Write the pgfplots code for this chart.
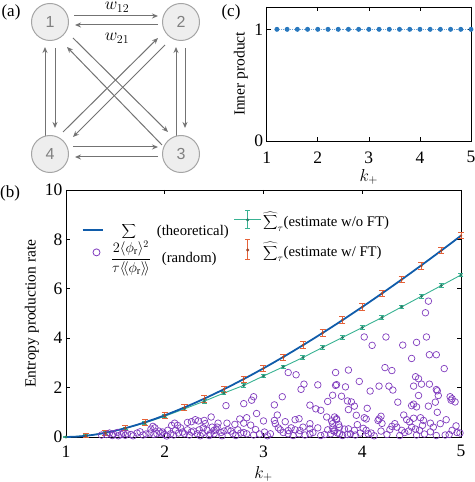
\documentclass[border=0pt]{standalone}
\usepackage{fontspec}
\setmainfont{Liberation Serif}
\newfontfamily\numfont{Liberation Sans}
\usepackage{pgfplots}
\usepackage{pgfplotstable}
\pgfplotsset{compat=1.18}
\usetikzlibrary{arrows.meta}
\definecolor{sigblue}{RGB}{16,92,170}
\definecolor{teal2}{RGB}{56,178,146}
\definecolor{orng}{RGB}{230,98,56}
\definecolor{purp}{RGB}{128,60,190}
\definecolor{cblue}{RGB}{40,120,190}
\definecolor{arrgray}{RGB}{115,115,115}
\definecolor{nodefill}{RGB}{238,238,238}
\definecolor{nodedraw}{RGB}{165,165,165}

\pgfplotstableread{
k s
1.0 0
1.1 0.0121
1.2 0.0462
1.3 0.0996
1.4 0.1704
1.5 0.2567
1.6 0.3570
1.7 0.4702
1.8 0.5953
1.9 0.7313
2.0 0.8775
2.1 1.0332
2.2 1.1978
2.3 1.3708
2.4 1.5517
2.5 1.7400
2.6 1.9355
2.7 2.1377
2.8 2.3463
2.9 2.5611
3.0 2.7817
3.1 3.0079
3.2 3.2396
3.3 3.4765
3.4 3.7183
3.5 3.9650
3.6 4.2163
3.7 4.4721
3.8 4.7323
3.9 4.9967
4.0 5.2651
4.1 5.5376
4.2 5.8138
4.3 6.0938
4.4 6.3774
4.5 6.6646
4.6 6.9552
4.7 7.2491
4.8 7.5462
4.9 7.8467
5.0 8.1502
}\theory

\pgfplotstableread{
k s e
1.0 0.00 0.01
1.2 0.05 0.04
1.4 0.17 0.05
1.6 0.35 0.05
1.8 0.57 0.06
2.0 0.84 0.06
2.2 1.14 0.06
2.4 1.45 0.07
2.6 1.78 0.07
2.8 2.09 0.07
3.0 2.47 0.07
3.2 2.84 0.07
3.4 3.22 0.07
3.6 3.63 0.07
3.8 4.03 0.07
4.0 4.43 0.07
4.2 4.84 0.07
4.4 5.27 0.07
4.6 5.70 0.07
4.8 6.13 0.07
5.0 6.56 0.07
}\teal

\pgfplotstableread{
k s e
1.2 0.05 0.08
1.4 0.17 0.10
1.6 0.36 0.11
1.8 0.59 0.12
2.0 0.87 0.12
2.2 1.19 0.13
2.4 1.54 0.13
2.6 1.93 0.13
2.8 2.34 0.13
3.0 2.78 0.13
3.2 3.23 0.13
3.4 3.72 0.13
3.6 4.22 0.13
3.8 4.74 0.13
4.0 5.26 0.13
4.2 5.81 0.13
4.4 6.37 0.13
4.6 6.93 0.13
4.8 7.55 0.13
5.0 8.15 0.13
}\orange

\pgfplotstableread{
k s
1.2 1
1.4 1
1.6 1
1.8 1
2.0 1
2.2 1
2.4 1
2.6 1
2.8 1
3.0 1
3.2 1
3.4 1
3.6 1
3.8 1
4.0 1
4.2 1
4.4 1
4.6 1
4.8 1
5.0 1
}\inner

\pgfplotstableread{
k s
1.44 0.16
1.41 0.10
1.48 0.13
1.52 0.18
1.56 0.10
1.58 0.16
1.62 0.13
1.66 0.10
1.72 0.16
1.75 0.21
1.86 0.32
1.88 0.43
1.90 0.37
1.94 0.24
1.96 0.16
1.85 0.16
1.89 0.10
1.92 0.13
2.00 0.10
2.07 0.47
2.10 0.56
2.13 0.47
2.16 0.37
2.11 0.27
2.14 0.16
2.18 0.20
2.23 0.59
2.27 0.62
2.31 0.70
2.34 0.65
2.40 0.67
2.41 0.54
2.23 0.29
2.27 0.20
2.29 0.24
2.35 0.29
2.39 0.37
2.43 0.27
2.46 0.13
2.50 0.27
2.53 0.40
2.03 0.27
2.06 0.13
2.20 0.13
2.33 0.13
2.38 0.16
2.45 0.06
1.36 0.08
1.47 0.06
1.53 0.05
1.60 0.07
1.68 0.05
1.78 0.08
1.81 0.12
1.98 0.20
2.02 0.04
2.09 0.08
2.25 0.08
2.36 0.05
3.25 2.61
3.33 2.52
3.41 2.14
3.38 1.93
3.55 2.11
3.73 2.09
3.19 1.63
2.90 1.63
2.88 1.49
2.80 1.35
2.62 1.27
3.11 1.30
3.65 1.44
3.47 1.29
3.53 1.14
3.58 1.08
3.14 0.89
2.93 0.95
2.83 0.78
2.76 0.73
3.11 0.67
3.22 0.62
3.32 0.70
3.36 0.74
3.64 0.81
3.69 0.65
3.74 0.74
3.00 0.65
2.47 0.81
2.54 0.56
2.63 0.56
2.71 0.51
2.80 0.56
2.87 0.48
2.74 0.29
2.48 0.40
2.52 0.29
2.60 0.24
2.64 0.29
2.67 0.24
2.80 0.18
2.83 0.13
3.01 0.20
3.07 0.13
3.12 0.54
3.15 0.37
3.17 0.29
3.20 0.18
3.25 0.26
3.28 0.37
3.32 0.29
3.37 0.26
3.47 0.54
3.47 0.33
3.55 0.37
3.47 0.13
3.50 0.18
3.65 0.29
3.70 0.37
3.72 0.24
3.76 0.51
3.77 0.13
3.68 0.13
2.50 0.13
2.57 0.18
2.69 0.13
2.77 0.16
3.25 0.13
3.36 0.13
2.58 0.05
2.72 0.06
2.90 0.08
2.96 0.12
3.04 0.05
3.30 0.06
3.42 0.08
3.58 0.06
3.62 0.10
2.92 0.30
3.40 0.40
4.02 4.05
4.24 4.05
4.65 4.05
4.10 3.71
4.41 3.72
4.55 3.83
4.68 3.33
4.75 3.33
4.50 3.18
3.73 2.61
3.86 2.71
4.23 2.81
4.30 2.69
4.83 2.77
3.97 2.25
3.74 2.12
3.83 2.03
4.17 2.06
4.27 2.06
4.31 1.90
4.08 1.86
4.54 2.44
4.57 2.36
4.60 2.14
4.68 2.14
4.75 1.92
4.76 1.87
4.52 2.06
3.70 1.69
3.79 1.65
3.85 1.46
3.89 1.42
3.92 1.25
3.86 1.11
4.57 1.68
4.77 1.68
4.89 1.63
4.91 1.55
4.94 1.42
4.90 1.49
4.36 1.41
4.52 1.33
4.55 1.22
4.50 1.27
4.67 1.25
4.74 1.41
4.05 1.16
4.76 1.00
3.94 0.88
4.02 0.78
4.04 0.73
4.19 0.84
4.17 0.73
4.16 0.67
3.72 0.81
3.74 0.70
3.70 0.54
3.77 0.40
3.82 0.32
3.86 0.33
3.92 0.27
4.01 0.35
4.04 0.27
4.09 0.16
4.30 0.43
4.33 0.54
4.35 0.40
4.42 0.89
4.45 0.70
4.48 0.61
4.52 0.76
4.59 0.78
4.62 0.67
4.50 0.40
4.54 0.32
4.58 0.27
4.61 0.47
4.69 0.56
4.72 0.40
4.79 0.54
4.40 0.27
4.43 0.18
4.47 0.24
4.69 0.21
4.84 0.08
4.91 0.27
4.96 0.18
4.99 0.16
3.71 0.24
3.75 0.16
3.85 0.10
3.88 0.13
3.98 0.16
4.06 0.13
4.19 0.24
4.67 5.50
4.64 5.03
3.80 0.06
3.93 0.08
4.12 0.05
4.25 0.10
4.38 0.06
4.55 0.08
4.63 0.12
4.75 0.06
4.88 0.10
4.28 0.30
3.95 0.50
4.20 0.55
4.85 0.70
4.95 0.45
}\randomdata

\pgfplotsset{
  panelb/.style={
    at={(66pt,45pt)}, anchor=south west, scale only axis,
    width=395pt, height=247pt,
    xmin=1, xmax=5, ymin=0, ymax=10},
  mylegend/.style={draw=none, fill=none,
     font=\fontsize{14.7}{15}\selectfont, column sep=0pt, inner sep=0pt,
     nodes={inner sep=1.5pt}},
}

\begin{document}
\begin{tikzpicture}[x=1pt,y=1pt]
\useasboundingbox (0,0) rectangle (474,482);

% ---------- panel labels ----------
\node[font=\fontsize{17}{17}\selectfont] at (11,470) {(a)};
\node[font=\fontsize{17}{17}\selectfont] at (10,289) {(b)};
\node[font=\fontsize{17}{17}\selectfont] at (231,470) {(c)};

% ---------- panel (a): network ----------
\begin{scope}[arrgray, line width=1pt, -{Stealth[length=6pt,width=5pt]}]
\draw (74,466) -- (158,466);
\draw (158,457) -- (75,457);
\draw (73,335) -- (158,335);
\draw (158,325) -- (75,325);
\draw (45,344) -- (45,435);
\draw (55,434) -- (55,354);
\draw (176,344) -- (176,435);
\draw (185,434) -- (185,354);
\draw (73,444) -- (168,350);
\draw (162,337) -- (67,435);
\draw (63,350) -- (158,444);
\draw (165,437) -- (73,345);
\end{scope}
\foreach \n/\px/\py in {1/50/460, 2/181/460, 3/181/328, 4/50/328}{
  \node[circle, draw=nodedraw, fill=nodefill, line width=1pt, minimum size=37pt, inner sep=0pt,
        font=\numfont\fontsize{16}{16}\selectfont, text=gray] at (\px,\py) {\n};
}
\node[font=\fontsize{17}{17}\selectfont] at (117,475) {$w_{12}$};
\node[font=\fontsize{17}{17}\selectfont] at (117,444) {$w_{21}$};

% ---------- panel (b) ----------
\begin{axis}[
  panelb,
  xtick={1,2,3,4,5}, ytick={0,2,4,6,8,10},
  tick align=inside, major tick length=4pt,
  axis line style={line width=0.7pt},
  tick style={line width=0.6pt, black},
  /pgf/number format/assume math mode=true,
  tick label style={font=\fontsize{17.5}{18}\selectfont},
  xticklabel style={yshift=-5pt},
  xlabel={$k_+$}, ylabel={Entropy production rate},
  every axis y label/.style={at={(axis description cs:-0.086,0.5)}, rotate=90, anchor=center, font=\fontsize{15.5}{16}\selectfont},
  every axis x label/.style={at={(axis description cs:0.5,-0.150)}, anchor=center, font=\fontsize{17}{17}\selectfont},
  clip=false,
  legend cell align=left,
  legend style={mylegend, row sep=1pt, at={(axis description cs:0.039,0.870)}, anchor=north west},
]
\addlegendimage{legend image code/.code={\draw[sigblue, line width=1.8pt] (0pt,0pt) -- (20pt,0pt);}}
\addlegendentry{\makebox[48pt]{$\displaystyle\sum$}\hspace{4pt}(theoretical)}
\addlegendimage{legend image code/.code={\path[draw=none, fill=none] (0pt,-1pt) rectangle (20pt,1pt); \draw[purp, line width=0.8pt, fill=none] (14pt,0pt) circle (3.5pt);}}
\addlegendentry{\makebox[52pt]{$\displaystyle\frac{2\langle\phi_{\mathrm{r}}\rangle^2}{\tau\langle\!\langle\phi_{\mathrm{r}}\rangle\!\rangle}$}\hspace{5pt}(random)}

\addplot[forget plot, only marks, mark=o, mark size=3.3pt, purp, mark options={line width=0.7pt}] table[x=k,y=s] {\randomdata};
\addplot[forget plot, teal2, line width=0.9pt, mark=*, mark size=1pt, mark options={fill=teal2!70!black, draw=teal2!70!black},
   error bars/.cd, y dir=both, y explicit, error bar style={line width=0.8pt, teal2},
   error mark options={rotate=90, mark size=2.5pt, line width=0.8pt, teal2}]
   table[x=k, y=s, y error=e] {\teal};
\addplot[forget plot, sigblue, line width=1.8pt] table[x=k,y=s] {\theory};
\addplot[forget plot, orng, only marks, mark=*, mark size=1pt, mark options={fill=orng!70!black, draw=orng!70!black},
   error bars/.cd, y dir=both, y explicit, error bar style={line width=0.9pt, orng},
   error mark options={rotate=90, mark size=3pt, line width=0.9pt, orng}]
   table[x=k, y=s, y error=e] {\orange};
\end{axis}

% second legend column for panel (b)
\begin{axis}[
  panelb, hide axis,
  legend cell align=left,
  legend style={mylegend, row sep=10pt, at={(axis description cs:0.424,0.919)}, anchor=north west},
]
\addlegendimage{legend image code/.code={\path[draw=none, fill=none] (0pt,-1pt) rectangle (27pt,1pt);
   \draw[teal2, line width=1pt] (0pt,0pt) -- (27pt,0pt) (13.5pt,-9pt) -- (13.5pt,9pt) (11pt,-9pt) -- (16pt,-9pt) (11pt,9pt) -- (16pt,9pt);
   \fill[teal2!70!black] (13.5pt,0pt) circle (1.3pt);}}
\addlegendentry{$\widehat{\displaystyle\sum}_{\tau}$(estimate w/o FT)}
\addlegendimage{legend image code/.code={\path[draw=none, fill=none] (0pt,-1pt) rectangle (27pt,1pt);
   \draw[orng, line width=1pt] (13.5pt,-10pt) -- (13.5pt,10pt) (11pt,-10pt) -- (16pt,-10pt) (11pt,10pt) -- (16pt,10pt);
   \fill[orng!70!black] (13.5pt,0pt) circle (1.3pt);}}
\addlegendentry{$\widehat{\displaystyle\sum}_{\tau}$(estimate w/ FT)}
\end{axis}

% ---------- panel (c) ----------
\begin{axis}[
  at={(266.7pt,341pt)}, anchor=south west, scale only axis,
  width=204.3pt, height=134pt,
  xmin=1, xmax=5, ymin=0, ymax=1.2,
  xtick={1,2,3,4,5}, ytick={0,1},
  tick align=inside, major tick length=4pt,
  axis line style={line width=0.7pt},
  tick style={line width=0.6pt, black},
  /pgf/number format/assume math mode=true,
  tick label style={font=\fontsize{17.5}{18}\selectfont},
  xticklabel style={yshift=-7pt},
  xlabel={$k_+$}, ylabel={Inner product},
  every axis y label/.style={at={(axis description cs:-0.126,0.5)}, rotate=90, anchor=center, font=\fontsize{15.5}{16}\selectfont},
  every axis x label/.style={at={(axis description cs:0.5,-0.269)}, anchor=center, font=\fontsize{17}{17}\selectfont},
]
\addplot[cblue!70, densely dotted, line width=0.9pt, mark=*, mark size=2pt, mark options={solid, fill=cblue, draw=cblue}] table[x=k,y=s] {\inner};
\end{axis}
\end{tikzpicture}
\end{document}
